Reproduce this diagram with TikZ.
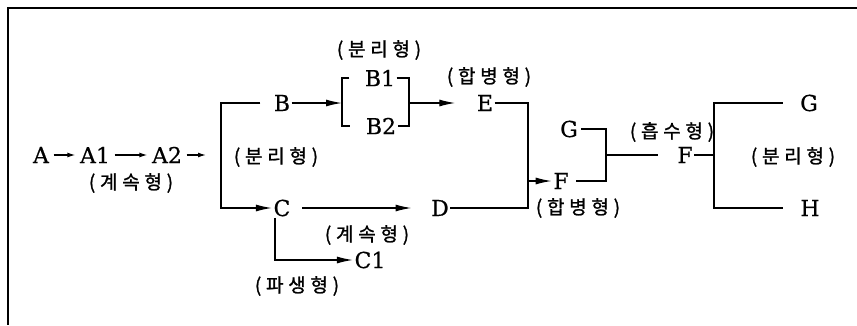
\documentclass[tikz,border=0pt]{standalone}
\usepackage{fontspec}
\usepackage{tikz}
\usetikzlibrary{arrows.meta}
\newfontfamily\kor[LetterSpace=25,FakeBold=1.2]{Noto Sans CJK KR}
\newfontfamily\lat[FakeBold=0.6]{DejaVu Serif}

\begin{document}
\begin{tikzpicture}[x=1pt, y=-1pt, line width=1.3pt,
    let/.style={inner sep=1pt, font=\lat\fontsize{22}{24}\selectfont},
    typ/.style={inner sep=0pt, font=\kor\fontsize{19}{21}\selectfont},
    tip/.style={-{Latex[length=16pt,width=7pt]}},
    stip/.style={-{Latex[length=8pt,width=5pt]}, shorten <=3pt, shorten >=3pt}]

    \useasboundingbox (0,0) rectangle (857,325);

    % frame
    \draw (857,8) -- (8,8) -- (8,325);

    % continuation chain
    \node[let] (A) at (41,155) {A};
    \node[let] (A1) at (95,155) {A1};
    \node[let] (A2) at (167,155) {A2};
    \node[typ] (cont1) at (131,183) {(계속형)};

    % first split
    \coordinate (sp1) at (221,155);
    \node[let] (B) at (282,103) {B};
    \node[let] (C) at (282,208) {C};
    \node[typ] (split1) at (276,157) {(분리형)};

    % B1 / B2 bracket
    \coordinate (sp2) at (342,103);
    \coordinate (sp3) at (409,103);
    \node[let] (B1) at (380,78) {B1};
    \node[let] (B2) at (381,126) {B2};
    \node[typ] (split2) at (379,50) {(분리형)};

    % merges
    \node[let] (E) at (485,103) {E};
    \node[let] (D) at (440,208) {D};
    \node[let] (C1) at (370,260) {C1};
    \node[typ] (merge1) at (489,77) {(합병형)};
    \node[typ] (cont2) at (367,235) {(계속형)};
    \node[typ] (deriv) at (297,286) {(파생형)};

    \coordinate (jn1) at (528,181);
    \node[let] (F1) at (561,181) {F};
    \node[let] (G1) at (569,129) {G};
    \node[typ] (merge2) at (578,208) {(합병형)};

    % absorption and last split
    \coordinate (jn2) at (606,155);
    \node[let] (F2) at (685,155) {F};
    \node[typ] (absorb) at (672,132) {(흡수형)};
    \coordinate (sp4) at (714,155);
    \node[let] (G2) at (809,103) {G};
    \node[let] (H) at (810,208) {H};
    \node[typ] (split3) at (793,157) {(분리형)};

    % Connections
    \draw[stip] (A) -- (A1);
    \draw[stip] (A1) -- (A2);
    \draw[stip, shorten >=15pt] (A2) -- (sp1);
    \draw[tip, shorten <=12pt] (B.west) -| (sp1) |- (C.west);
    \draw[tip] (B) -- (sp2);
    \draw[shorten <=14pt, shorten >=14pt] (B1.west) -| (sp2) |- (B2.west);
    \draw (B1.east) -| (sp3) |- (B2.east);
    \draw[tip, shorten >=20pt] (sp3) -- (E);
    \draw[tip, shorten <=10pt, shorten >=18pt] (C) -- (D);
    \draw[tip] ([xshift=-7pt]C.south) |- (C1.west);
    \draw (E.east) -| (jn1) |- (D.east);
    \draw[tip] (jn1) -- (F1.west);
    \draw[shorten <=2pt] (G1.east) -| (jn2) |- ([xshift=6pt]F1.east);
    \draw[shorten >=18pt] (jn2) -- (F2);
    \draw (F2.east) -- (sp4);
    \draw[shorten <=16pt, shorten >=16pt] (G2.west) -| (sp4) |- (H.west);
\end{tikzpicture}
\end{document}
